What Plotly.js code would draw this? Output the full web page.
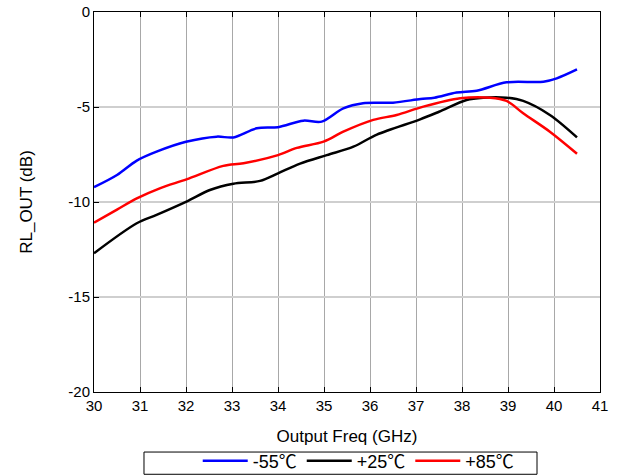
<!DOCTYPE html>
<html>
<head>
<meta charset="utf-8">
<script src="https://cdn.plot.ly/plotly-3.0.1.min.js"></script>
<style>html,body{margin:0;padding:0;background:#fff;}#chart{width:628px;height:476px;}</style>
</head>
<body>
<div id="chart"></div>
<script>
const seriesNames = ["-55\u2103", "+25\u2103", "+85\u2103"];

const freqM55 = [30.0, 30.5, 30.93, 31.36, 32.0, 32.67, 33.03, 33.54, 34.0, 34.55, 34.95, 35.42, 35.85, 36.5, 37.1, 37.4, 37.88, 38.32, 38.97, 39.77, 40.06, 40.5];
const rlM55   = [-9.22, -8.58, -7.82, -7.35, -6.83, -6.56, -6.6, -6.12, -6.06, -5.72, -5.77, -5.07, -4.8, -4.77, -4.58, -4.51, -4.24, -4.14, -3.70, -3.67, -3.49, -3.02];

const freqP25 = [30.0, 30.93, 31.36, 32.01, 32.52, 33.03, 33.61, 34.0, 34.48, 35.06, 35.64, 36.15, 37.09, 37.5, 38.1, 38.46, 38.97, 39.33, 39.91, 40.5];
const rlP25   = [-12.7, -11.12, -10.68, -9.98, -9.37, -9.04, -8.89, -8.49, -7.98, -7.53, -7.09, -6.45, -5.65, -5.25, -4.63, -4.51, -4.51, -4.68, -5.42, -6.6];

const freqP85 = [30.0, 30.5, 30.93, 31.43, 32.01, 32.81, 33.25, 34.0, 34.41, 34.99, 35.42, 36.07, 36.58, 37.16, 37.96, 38.61, 38.97, 39.33, 39.91, 40.5];
const rlP85   = [-11.09, -10.4, -9.81, -9.28, -8.81, -8.1, -7.96, -7.53, -7.15, -6.82, -6.3, -5.68, -5.42, -4.98, -4.54, -4.51, -4.68, -5.33, -6.3, -7.46];

const xTicks = [30, 31, 32, 33, 34, 35, 36, 37, 38, 39, 40, 41];
const yTicks = [0, -5, -10, -15, -20];

const font = "Liberation Sans, Arial, sans-serif";
const legendFont = "Liberation Sans, Noto Sans CJK SC, sans-serif";

const traces = [
  {x: freqM55, y: rlM55, name: seriesNames[0], color: "#0000ff"},
  {x: freqP25, y: rlP25, name: seriesNames[1], color: "#000000"},
  {x: freqP85, y: rlP85, name: seriesNames[2], color: "#ff0000"}
].map(s => ({
  x: s.x, y: s.y, name: s.name, type: "scatter", mode: "lines",
  line: {color: s.color, width: 2.5, shape: "spline", smoothing: 0.9}
}));

const layout = {
  width: 628, height: 476,
  margin: {l: 94, r: 28, t: 12, b: 84, autoexpand: false},
  paper_bgcolor: "#ffffff", plot_bgcolor: "#ffffff",
  font: {family: font, size: 15, color: "#000"},
  showlegend: true,
  legend: {
    orientation: "h", x: 0.205, xanchor: "left", y: -0.133, yanchor: "top",
    borderwidth: 0, bgcolor: "rgba(0,0,0,0)",
    font: {family: legendFont, size: 18, color: "#000"},
    itemwidth: 45, tracegroupgap: 0
  },
  shapes: [{
    type: "rect", xref: "paper", yref: "paper",
    x0: 0.0988, x1: 0.8755, y0: -0.158, y1: -0.2165,
    line: {color: "#000", width: 1}, fillcolor: "rgba(0,0,0,0)", layer: "below"
  }],
  xaxis: {
    range: [30, 41], tickvals: xTicks, ticktext: xTicks.map(String),
    ticks: "inside", ticklen: 5, tickcolor: "#000",
    showline: true, linecolor: "#000", linewidth: 1, mirror: "ticks",
    showgrid: true, gridcolor: "#a8a8a8", gridwidth: 1, zeroline: false,
    tickfont: {family: font, size: 15},
    title: {text: "Output Freq (GHz)", font: {family: font, size: 17}, standoff: 17}
  },
  yaxis: {
    range: [-20, 0], tickvals: yTicks, ticktext: yTicks.map(String),
    ticks: "inside", ticklen: 5, tickcolor: "#000",
    showline: true, linecolor: "#000", linewidth: 1, mirror: true,
    showgrid: true, gridcolor: "#cfcfcf", gridwidth: 1.5, zeroline: false,
    tickfont: {family: font, size: 15},
    title: {text: "RL_OUT (dB)", font: {family: font, size: 17}, standoff: 31}
  }
};

Plotly.newPlot("chart", traces, layout, {displayModeBar: false, staticPlot: true});
</script>
</body>
</html>
